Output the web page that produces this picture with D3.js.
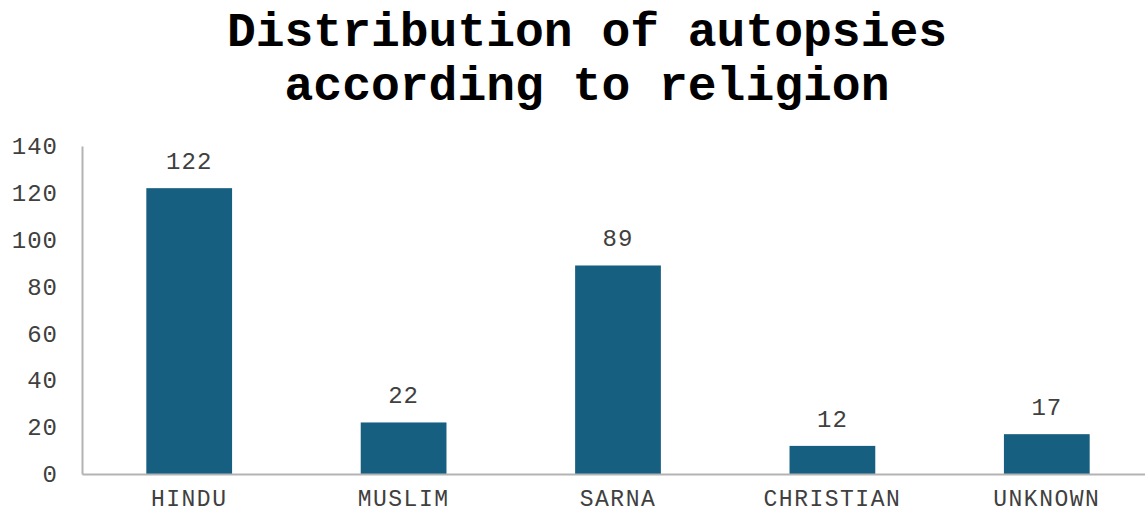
<!DOCTYPE html>
<html><head><meta charset="utf-8">
<script src="https://cdn.jsdelivr.net/npm/d3@7/dist/d3.min.js"></script>
<style>body{margin:0;background:#fff}svg{display:block}</style>
</head><body>
<svg id="c" width="1145" height="513"></svg>
<script>
const categories = ["HINDU","MUSLIM","SARNA","CHRISTIAN","UNKNOWN"];
const values = [122,22,89,12,17];
const yTicks = [0,20,40,60,80,100,120,140];
const titleLines = ["Distribution of autopsies","according to religion"];

const svg = d3.select("#c");
const W = 1145, H = 513;
const m = {left:82, top:146, bottom:39};
const font = "'Liberation Mono','Courier New',monospace";

const x = d3.scaleBand().domain(categories).range([m.left, 1154]).paddingInner(0.6).paddingOuter(0.3);
const y = d3.scaleLinear().domain([0,140]).range([H - m.bottom, m.top]);

svg.append("g").selectAll("text").data(titleLines).join("text")
  .attr("x", 587).attr("y", (d,i)=>46 + i*54)
  .attr("text-anchor","middle").attr("font-family",font).attr("font-weight","bold")
  .attr("font-size",48).attr("fill","#000").text(d=>d);

const ya = svg.append("g").attr("transform",`translate(${m.left},0)`)
  .call(d3.axisLeft(y).tickValues(yTicks).tickSize(0).tickPadding(24));
ya.select(".domain").attr("stroke","#b3b3b3").attr("stroke-width",2);
ya.selectAll("text").attr("font-family",font).attr("font-size",24).attr("fill","#404040").style("letter-spacing","1px");

svg.append("g").selectAll("rect").data(values).join("rect")
  .attr("x",(d,i)=>x(categories[i])).attr("width",x.bandwidth())
  .attr("y",d=>y(d)).attr("height",d=>y(0)-y(d))
  .attr("fill","#175f80");

const xa = svg.append("g").attr("transform",`translate(0,${y(0)})`)
  .call(d3.axisBottom(x).tickSize(0).tickPadding(16));
xa.select(".domain").attr("stroke","#b3b3b3").attr("stroke-width",2);
xa.selectAll("text").attr("font-family",font).attr("font-size",23).attr("fill","#404040").style("letter-spacing","1.5px");

svg.append("g").selectAll("text").data(values).join("text")
  .attr("x",(d,i)=>x(categories[i]) + x.bandwidth()/2)
  .attr("y",d=>y(d) - 19)
  .attr("text-anchor","middle").attr("font-family",font).attr("font-size",24)
  .attr("fill","#404040").style("letter-spacing","1px").text(d=>d);
</script>
</body></html>
